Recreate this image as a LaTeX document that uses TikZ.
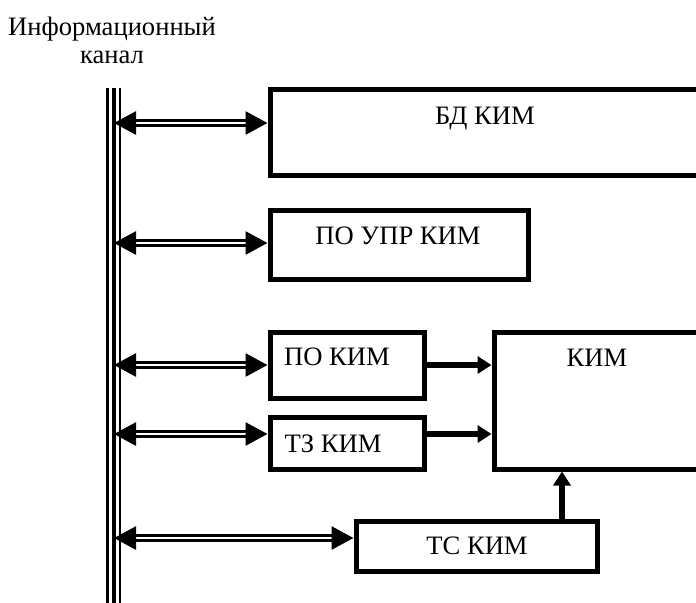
\documentclass[tikz,border=0pt]{standalone}
\usepackage{fontspec}
\setmainfont{Liberation Serif}
\usetikzlibrary{arrows.meta}

\tikzset{
  blok/.style={draw, line width=2.5pt, inner sep=0pt, minimum width=#1},
  txt/.style={font=\fontsize{13.3}{14}\selectfont, anchor=base, inner sep=0pt},
  obmen/.style={double, line width=1.35pt, double distance=1pt,
    {Triangle[length=11pt,width=11.5pt]}-{Triangle[length=11pt,width=11.5pt]}},
  potok/.style={line width=2.6pt, -{Triangle[length=7pt,width=8.5pt]}}
}

\begin{document}
\begin{tikzpicture}[x=0.5pt, y=-0.5pt]

  \clip (0,0) rectangle (696,602);

  % ── Information channel (triple bus) ──────────────────────────
  \node[txt, align=center] (kanal) at (112,63) {Информационный\\канал};
  \draw[line width=1.5pt] (107.5,88) -- (107.5,610);
  \draw[line width=2pt]   (114,88)   -- (114,610);
  \draw[line width=1.2pt] (120,88)   -- (120,610);

  % ── Boxes ─────────────────────────────────────────────────────
  \node[blok=216pt, minimum height=43pt]   (bd)    at (486,132)   {};
  \node[blok=129pt, minimum height=34.5pt] (poupr) at (399,244.5) {};
  \node[blok=77pt,  minimum height=33pt]   (pokim) at (347,365)   {};
  \node[blok=77pt,  minimum height=26pt]   (tzkim) at (347,443)   {};
  \node[blok=104pt, minimum height=68.5pt] (kim)   at (598,400.5) {};
  \node[blok=120.5pt, minimum height=25pt] (tskim) at (476.5,546) {};

  % ── Box texts ─────────────────────────────────────────────────
  \node[txt] (bdtxt)    at (485,124) {БД КИМ};
  \node[txt] (poupttxt) at (398,244) {ПО УПР КИМ};
  \node[txt] (pokimtxt) at (337,365) {ПО КИМ};
  \node[txt] (tzkimtxt) at (333,452) {ТЗ КИМ};
  \node[txt] (kimtxt)   at (597,366) {КИМ};
  \node[txt] (tskimtxt) at (477,554) {ТС КИМ};

  % ── Exchange with the channel ─────────────────────────────────
  \coordinate (k1) at (114,123);
  \coordinate (k2) at (114,243);
  \coordinate (k3) at (114,365);
  \coordinate (k4) at (114,434);
  \coordinate (k5) at (114,538);
  \draw[obmen] (k1) -- (k1 -| bd.west);
  \draw[obmen] (k2) -- (k2 -| poupr.west);
  \draw[obmen] (k3) -- (k3 -| pokim.west);
  \draw[obmen] (k4) -- (k4 -| tzkim.west);
  \draw[obmen] (k5) -- (k5 -| tskim.west);

  % ── Flows into KIM ────────────────────────────────────────────
  \draw[potok] (pokim.east) -- (pokim.east -| kim.west);
  \draw[potok] (tzkim.east |- 0,434) -- (kim.west |- 0,434);
  \draw[potok] (tskim.north -| 562,0) -- (kim.south -| 562,0);

\end{tikzpicture}
\end{document}
